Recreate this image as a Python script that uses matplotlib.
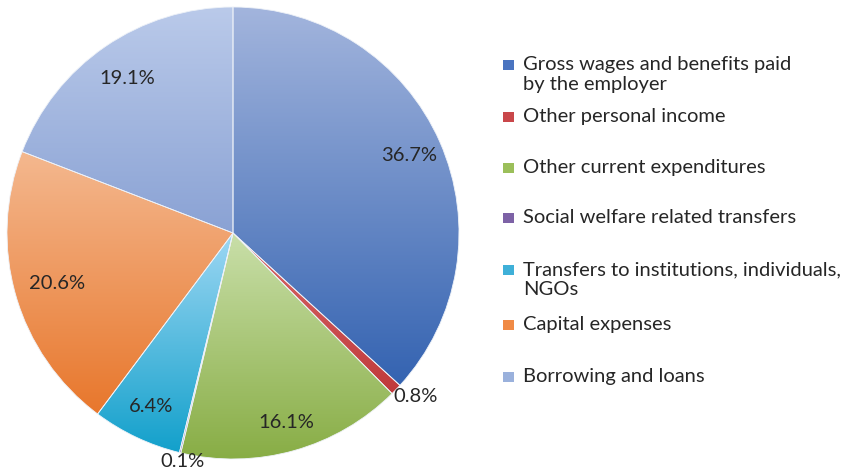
import numpy as np
import matplotlib.pyplot as plt
from matplotlib.colors import LinearSegmentedColormap
from matplotlib.patches import Rectangle

# Structure of expenditures (%)
categories = [
    'Gross wages and benefits paid\nby the employer',
    'Other personal income',
    'Other current expenditures',
    'Social welfare related transfers',
    'Transfers to institutions, individuals,\nNGOs',
    'Capital expenses',
    'Borrowing and loans',
]
shares = [36.7, 0.8, 16.1, 0.1, 6.4, 20.6, 19.1]

# top / bottom colour of each slice's vertical gradient
grad_top = ['#a3b5dd', '#d86a6a', '#c9dfa9', '#a08cc0', '#9dd7f3', '#f4b88f', '#bacaea']
grad_bot = ['#3463b1', '#c0393b', '#88ad45', '#6a4f96', '#12a0cb', '#e8772c', '#8aa2d4']
legend_col = ['#4a74c0', '#c9474a', '#9bbf5a', '#7d62a6', '#3fb0d8', '#f08a45', '#9ab1dc']

plt.rcParams['font.family'] = ['Lato', 'DejaVu Sans']

fig = plt.figure(figsize=(8.45, 4.75), dpi=100)
ax = fig.add_axes([7 / 845, 16 / 475, 452 / 845, 452 / 475])

wedges, _ = ax.pie(shares, startangle=90, counterclock=False, radius=1.0,
                   colors=grad_bot, wedgeprops=dict(linewidth=0.6, edgecolor='#eef2f8'))

# replace the flat fills with a top-to-bottom gradient per slice
grad = np.linspace(0, 1, 256).reshape(-1, 1)
for w, c1, c2 in zip(wedges, grad_top, grad_bot):
    bb = w.get_path().get_extents()
    cmap = LinearSegmentedColormap.from_list('g', [c1, c2])
    im = ax.imshow(grad, cmap=cmap, aspect='auto', interpolation='bilinear',
                   extent=[bb.x0, bb.x1, bb.y0, bb.y1], zorder=1.5)
    im.set_clip_path(w)
    w.set_facecolor('none')
    w.set_zorder(2)

ax.set_xlim(-1, 1)
ax.set_ylim(-1, 1)
ax.set_aspect('equal')
ax.axis('off')

# percentage labels (the two thin slices get theirs outside the rim)
label_dist = [0.85, 1.09, 0.87, 1.04, 0.85, 0.81, 0.83]
label_shift = [(0, 0), (0.02, 0.03), (0, 0), (0.02, 0), (0, 0), (0, 0), (0, 0)]
for w, v, d, (sx, sy) in zip(wedges, shares, label_dist, label_shift):
    ang = np.deg2rad((w.theta1 + w.theta2) / 2)
    x, y = d * np.cos(ang) + sx, d * np.sin(ang) + sy
    ax.text(x, y, f'{v:.1f}%', ha='center', va='center', fontsize=14.5,
            color='#262626', zorder=5)

# legend, one text per line so the square sits beside the first line
item_y = [65, 117, 168, 218, 270, 325, 377]
for lab, col, y in zip(categories, legend_col, item_y):
    fig.patches.append(Rectangle((503 / 845, 1 - (y + 5) / 475), 11 / 845, 10 / 475,
                                 transform=fig.transFigure, facecolor=col,
                                 edgecolor='none'))
    for i, line in enumerate(lab.split('\n')):
        fig.text(523 / 845, 1 - (y + 5 + 20 * i) / 475, line, ha='left', va='baseline',
                 fontsize=14.5, color='#262626')

fig.savefig('out.png', dpi=100)
